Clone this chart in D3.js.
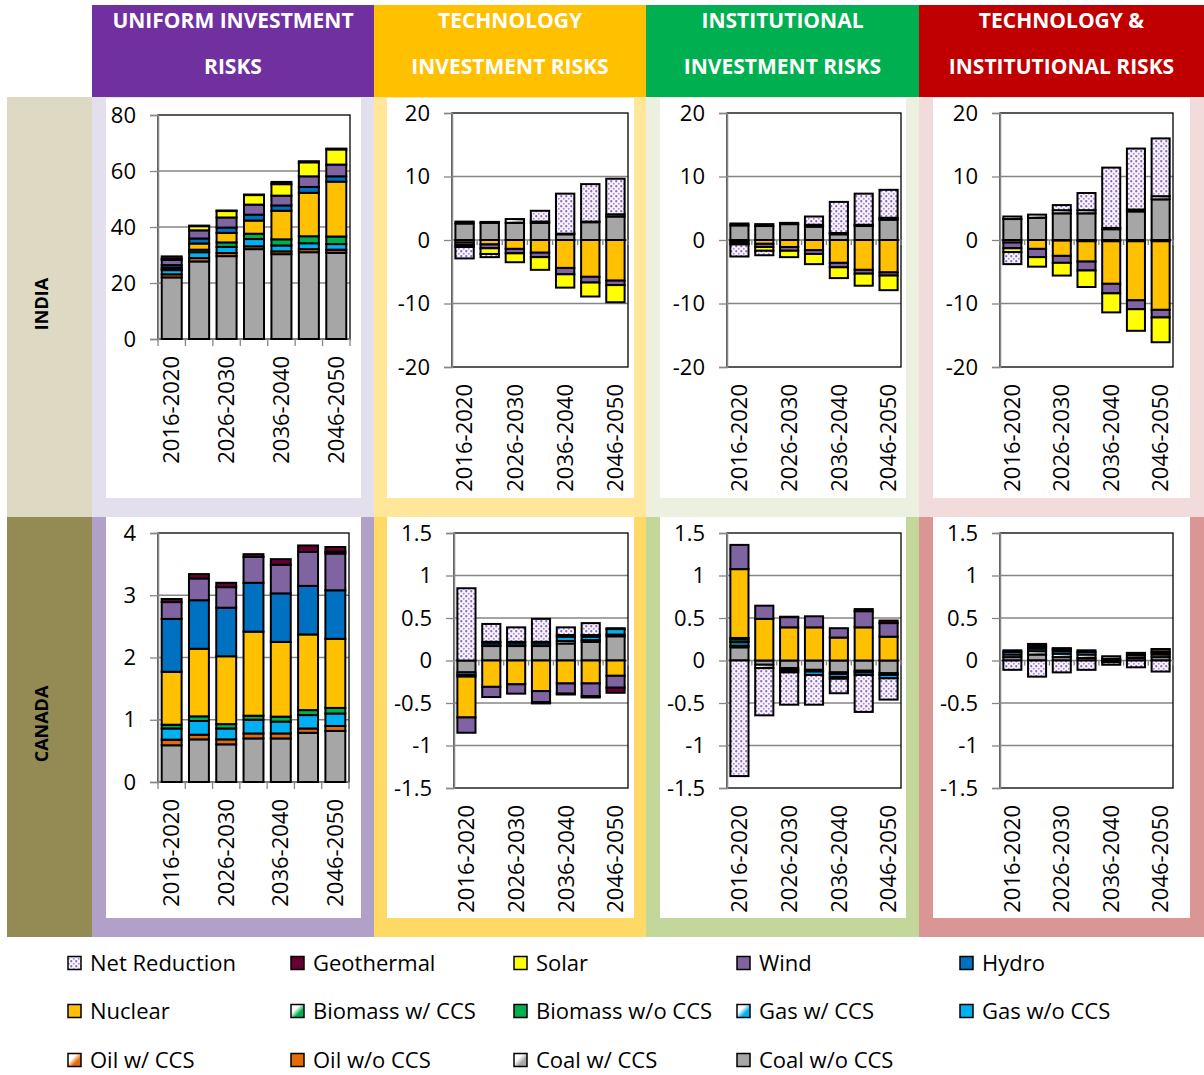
<!DOCTYPE html>
<html><head><meta charset="utf-8">
<script src="https://cdn.jsdelivr.net/npm/d3@7"></script>
<style>body{margin:0;background:#fff} text{font-family:'Open Sans','Noto Sans',sans-serif}</style>
</head><body><svg id="c" width="1204" height="1075"></svg>
<script>
// ---------------- DATA ----------------
const categories = ["2016-2020","2021-2025","2026-2030","2031-2035","2036-2040","2041-2045","2046-2050"];
const shownCategoryLabels = ["2016-2020","2026-2030","2036-2040","2046-2050"];
// stack order bottom -> top
const seriesNames = ["Coal w/o CCS","Coal w/ CCS","Oil w/o CCS","Oil w/ CCS","Gas w/o CCS","Gas w/ CCS",
  "Biomass w/o CCS","Biomass w/ CCS","Nuclear","Hydro","Wind","Solar","Geothermal","Net Reduction"];
const legendOrder = ["Net Reduction","Geothermal","Solar","Wind","Hydro","Nuclear","Biomass w/ CCS",
  "Biomass w/o CCS","Gas w/ CCS","Gas w/o CCS","Oil w/ CCS","Oil w/o CCS","Coal w/ CCS","Coal w/o CCS"];
const scenarioHeaders = [["UNIFORM INVESTMENT","RISKS"],["TECHNOLOGY","INVESTMENT RISKS"],
  ["INSTITUTIONAL","INVESTMENT RISKS"],["TECHNOLOGY &","INSTITUTIONAL RISKS"]];
const regionNames = ["INDIA","CANADA"];
const indiaUniformTicks = [0,20,40,60,80];
const indiaDiffTicks = [-20,-10,0,10,20];
const canadaUniformTicks = [0,1,2,3,4];
const canadaDiffTicks = [-1.5,-1,-0.5,0,0.5,1,1.5];
const Z = [0,0,0,0,0,0,0];

// rows follow seriesNames order; columns follow categories
const indiaUniform = [
  [22.0,27.7,29.6,32.1,30.3,31.0,30.8],
  Z,
  [1.1,1.2,1.1,1.0,1.0,1.1,1.1],
  Z,
  [1.5,2.1,2.2,2.6,2.1,2.1,2.0],
  Z,
  [0.3,0.9,1.6,1.9,2.2,2.5,2.7],
  Z,
  [0.6,2.2,3.4,4.7,10.2,15.5,19.6],
  [0.9,1.8,1.9,2.1,1.9,2.1,1.9],
  [1.9,2.9,3.6,3.6,3.5,3.8,4.2],
  [0.3,1.5,2.3,3.4,4.1,5.0,5.4],
  [0.9,0.2,0.2,0.2,0.8,0.4,0.3],
  Z
];
const indiaTech = [
  [2.6,2.7,2.7,2.7,0.9,2.8,3.7],
  [0.3,0.15,0.6,0.2,0.1,0.1,0.35],
  Z,Z,Z,Z,Z,Z,
  [-0.4,-0.7,-1.4,-2.0,-4.4,-5.8,-6.4],
  Z,
  [-0.4,-0.6,-0.7,-0.7,-1.0,-0.9,-0.7],
  [-0.3,-0.9,-1.4,-2.0,-2.1,-2.2,-2.7],
  Z,
  [-1.8,-0.5,0,1.7,6.3,5.9,5.6]
];
const indiaInst = [
  [2.3,2.2,2.5,2.1,0.9,2.2,3.2],
  [0.3,0.3,0.2,0.3,0.2,0.2,0.3],
  Z,Z,Z,Z,Z,Z,
  [-0.3,-0.6,-1.1,-1.6,-3.6,-4.7,-5.1],
  Z,
  [-0.3,-0.5,-0.6,-0.6,-0.7,-0.6,-0.5],
  [-0.1,-0.6,-1.0,-1.6,-1.7,-1.9,-2.3],
  Z,
  [-1.9,-0.7,0,1.3,4.9,4.9,4.4]
];
const indiaTechInst = [
  [3.3,3.5,4.2,4.2,1.7,4.5,6.4],
  [0.4,0.5,0.5,0.5,0.2,0.3,0.5],
  Z,Z,Z,Z,
  [0,0,-0.1,-0.2,-0.2,-0.2,-0.2],
  Z,
  [-0.4,-1.4,-2.4,-3.2,-6.7,-9.3,-10.8],
  Z,
  [-0.9,-1.3,-1.1,-1.4,-1.5,-1.4,-1.2],
  [-0.6,-1.5,-2.0,-2.6,-3.0,-3.4,-3.9],
  Z,
  [-1.9,0,0.8,2.7,9.5,9.6,9.1]
];
const canadaUniform = [
  [0.59,0.685,0.605,0.70,0.70,0.79,0.82],
  Z,
  [0.09,0.075,0.08,0.08,0.08,0.07,0.08],
  Z,
  [0.18,0.22,0.175,0.22,0.19,0.215,0.20],
  Z,
  [0.06,0.075,0.07,0.065,0.08,0.08,0.09],
  Z,
  [0.85,1.085,1.09,1.35,1.2,1.215,1.11],
  [0.85,0.78,0.78,0.785,0.78,0.78,0.78],
  [0.27,0.35,0.33,0.415,0.46,0.545,0.59],
  [0,0,0,0,0,0,0.03],
  [0.05,0.07,0.07,0.045,0.09,0.105,0.075],
  Z
];
const canadaTech = [
  [-0.14,0.17,0.17,0.17,0.20,0.22,0.285],
  [0,0.01,0.01,0.01,0.03,0.02,0.02],
  Z,Z,
  [-0.03,0.03,0.03,0.03,0.05,0.04,0.065],
  [-0.02,0.01,0.01,0.01,0.02,0.02,0.01],
  Z,Z,
  [-0.48,-0.31,-0.28,-0.36,-0.27,-0.27,-0.18],
  Z,
  [-0.18,-0.12,-0.11,-0.13,-0.12,-0.15,-0.14],
  Z,
  [0,0,0,-0.015,-0.01,-0.015,-0.06],
  [0.85,0.21,0.17,0.27,0.09,0.14,0]
];
const canadaInst = [
  [0.155,-0.05,-0.09,-0.11,-0.14,-0.12,-0.15],
  [0.02,-0.04,-0.02,-0.02,-0.02,-0.02,-0.02],
  [0,0,-0.01,0,0,0,0],
  Z,
  [0.04,0,-0.02,-0.04,-0.035,-0.03,-0.04],
  [0.01,0,0,0,-0.02,0,0],
  [0.03,0,0,0,0,0,0],
  [0.01,0,0,0,0,0,0],
  [0.81,0.49,0.39,0.39,0.27,0.39,0.28],
  Z,
  [0.285,0.155,0.12,0.13,0.11,0.19,0.16],
  Z,
  [0,0,0.005,0,0,0.025,0.03],
  [-1.36,-0.555,-0.38,-0.35,-0.17,-0.435,-0.25]
];
const canadaTechInst = [
  [0.04,0.07,0.04,0.03,0.02,0.03,0.04],
  [0.03,0.04,0.04,0.04,0.03,0.03,0.03],
  Z,Z,
  [0.03,0.03,0.03,0.03,0,0.02,0.02],
  [0.02,0.02,0.02,0.02,0,0.01,0.01],
  Z,Z,
  [0,0.02,0.01,0,0,0,0.03],
  Z,
  [0,0.015,0.005,0,-0.02,0,0.005],
  Z,Z,
  [-0.11,-0.19,-0.14,-0.11,-0.03,-0.08,-0.13]
];

// ---------------- STYLE / LAYOUT ----------------
const svg = d3.select("#c");
const defs = svg.append("defs");
const nr = defs.append("pattern").attr("id","pNR").attr("patternUnits","userSpaceOnUse")
  .attr("width",5).attr("height",5);
nr.append("rect").attr("width",5).attr("height",5).attr("fill","#FAF6FD");
nr.append("circle").attr("cx",1.25).attr("cy",1.25).attr("r",1.15).attr("fill","#8E68C6");
nr.append("circle").attr("cx",3.75).attr("cy",3.75).attr("r",1.0).attr("fill","#A98ED6");
function grad(id,color){
  const g = defs.append("linearGradient").attr("id",id).attr("x1",0).attr("y1",0).attr("x2",1).attr("y2",1);
  g.append("stop").attr("offset","0.35").attr("stop-color","#fff");
  g.append("stop").attr("offset","0.65").attr("stop-color",color);
}
grad("gCoal","#A6A6A6"); grad("gOil","#E46C0A"); grad("gGas","#00B0F0"); grad("gBio","#00B050");
const fills = {
  "Coal w/o CCS":"#A6A6A6","Coal w/ CCS":"url(#gCoal)","Oil w/o CCS":"#E46C0A","Oil w/ CCS":"url(#gOil)",
  "Gas w/o CCS":"#00B0F0","Gas w/ CCS":"url(#gGas)","Biomass w/o CCS":"#00B050","Biomass w/ CCS":"url(#gBio)",
  "Nuclear":"#FFC000","Hydro":"#0070C0","Wind":"#8064A2","Solar":"#FFFF00","Geothermal":"#660033",
  "Net Reduction":"url(#pNR)"
};

const colX = [[92,374],[374,646],[646,919],[919,1204]];
const headerColors = ["#7030A0","#FFC000","#00B050","#C00000"];
const rowY = [[97,517],[517,937]];
const rowLabelColors = ["#DDD9C3","#948A54"];
const panelBg = [["#E4DFEC","#FFE699","#EBF1DE","#F2DCDB"],["#B1A0C7","#FFD966","#C4D79B","#DA9694"]];
const whiteX = [[106,361],[387,634],[660,906],[933,1190]];
const whiteY = [[98,498],[517,918]];

// headers
colX.forEach((cx,i)=>{
  svg.append("rect").attr("x",cx[0]).attr("y",5).attr("width",cx[1]-cx[0]).attr("height",92).attr("fill",headerColors[i]);
  scenarioHeaders[i].forEach((t,k)=>{
    svg.append("text").attr("x",(cx[0]+cx[1])/2).attr("y",k===0?21:67).attr("dy","0.35em")
      .attr("text-anchor","middle").attr("fill","#fff").attr("font-weight","bold").attr("font-size",21).text(t);
  });
});
// rows
rowY.forEach((ry,r)=>{
  svg.append("rect").attr("x",7).attr("y",ry[0]).attr("width",85).attr("height",ry[1]-ry[0]).attr("fill",rowLabelColors[r]);
  svg.append("text").attr("transform",`translate(42,${(ry[0]+ry[1])/2-3}) rotate(-90)`).attr("dy","0.35em")
    .attr("text-anchor","middle").attr("font-weight","bold").attr("font-size",18).attr("fill","#000").text(regionNames[r]);
  colX.forEach((cx,c)=>{
    svg.append("rect").attr("x",cx[0]).attr("y",ry[0]).attr("width",cx[1]-cx[0]).attr("height",ry[1]-ry[0]).attr("fill",panelBg[r][c]);
    svg.append("rect").attr("x",whiteX[c][0]).attr("y",whiteY[r][0]).attr("width",whiteX[c][1]-whiteX[c][0])
      .attr("height",whiteY[r][1]-whiteY[r][0]).attr("fill","#fff");
  });
});

const panels = [
  {data:indiaUniform, frame:[158,115,350,339], ticks:indiaUniformTicks},
  {data:indiaTech, frame:[452,113,628,367], ticks:indiaDiffTicks},
  {data:indiaInst, frame:[727,113,901,367], ticks:indiaDiffTicks},
  {data:indiaTechInst, frame:[1000,113,1173,367], ticks:indiaDiffTicks},
  {data:canadaUniform, frame:[158,533,349,782], ticks:canadaUniformTicks},
  {data:canadaTech, frame:[454,533,628,788], ticks:canadaDiffTicks},
  {data:canadaInst, frame:[727,533,901,788], ticks:canadaDiffTicks},
  {data:canadaTechInst, frame:[1000,533,1173,788], ticks:canadaDiffTicks}
];
const GRID = "#868686";

panels.forEach(p=>{
  const [x0,y0,x1,y1] = p.frame;
  const g = svg.append("g");
  const x = d3.scaleBand().domain(categories).range([x0,x1]).paddingInner(0.27).paddingOuter(0.135);
  const y = d3.scaleLinear().domain(d3.extent(p.ticks)).range([y1,y0]);
  const step = x.step();
  // gridlines
  g.selectAll(".grid").data(p.ticks.filter(t=>t!==0 && t!==p.ticks[0] && t!==p.ticks[p.ticks.length-1]))
    .join("line").attr("x1",x0).attr("x2",x1).attr("y1",d=>y(d)).attr("y2",d=>y(d))
    .attr("stroke",GRID).attr("stroke-width",1.3);
  // frame
  g.append("rect").attr("x",x0).attr("y",y0).attr("width",x1-x0).attr("height",y1-y0)
    .attr("fill","none").attr("stroke","#000").attr("stroke-width",1.3);
  // category axis at 0
  const yz = y(0);
  g.append("line").attr("x1",x0).attr("x2",x1).attr("y1",yz).attr("y2",yz).attr("stroke",GRID).attr("stroke-width",1.5);
  g.selectAll(".ct").data(d3.range(categories.length+1)).join("line")
    .attr("x1",i=>x0+i*step).attr("x2",i=>x0+i*step).attr("y1",yz).attr("y2",yz+(p.ticks[0]===0?7:5))
    .attr("stroke",GRID).attr("stroke-width",1.3);
  // y axis
  const ax = g.append("g").attr("transform",`translate(${x0},0)`)
    .call(d3.axisLeft(y).tickValues(p.ticks).tickFormat(d=>String(d)).tickSize(8).tickPadding(14));
  ax.select(".domain").attr("stroke",GRID).attr("stroke-width",1.5);
  ax.selectAll(".tick line").attr("stroke",GRID).attr("stroke-width",1.3);
  ax.selectAll(".tick text").attr("font-size",22).attr("fill","#000").attr("font-family","'Open Sans',sans-serif");
  // stacked bars
  const rows = categories.map((c,j)=>{const o={cat:c}; seriesNames.forEach((s,i)=>o[s]=p.data[i][j]); return o;});
  const layers = d3.stack().keys(seriesNames).offset(d3.stackOffsetDiverging)(rows);
  layers.forEach(layer=>{
    g.selectAll(null).data(layer.filter(d=>Math.abs(d[1]-d[0])>1e-9)).join("rect")
      .attr("x",d=>x(d.data.cat)).attr("width",x.bandwidth())
      .attr("y",d=>y(Math.max(d[0],d[1]))).attr("height",d=>Math.abs(y(d[0])-y(d[1])))
      .attr("fill",fills[layer.key]).attr("stroke","#000").attr("stroke-width",2);
  });
  // category labels
  g.selectAll(".cl").data(shownCategoryLabels).join("text")
    .attr("transform",d=>`translate(${x(d)+x.bandwidth()/2},${y1+17}) rotate(-90)`)
    .attr("dy","0.35em").attr("text-anchor","end").attr("font-size",22).attr("fill","#000").text(d=>d);
});

// legend
const legX = [68,291,514,737,960];
const legY = [963,1011,1060];
legendOrder.forEach((name,i)=>{
  const cx = legX[i%5], cy = legY[Math.floor(i/5)];
  svg.append("rect").attr("x",cx).attr("y",cy-6.5).attr("width",13).attr("height",13)
    .attr("fill",fills[name]).attr("stroke","#000").attr("stroke-width",1.5);
  svg.append("text").attr("x",cx+22).attr("y",cy).attr("dy","0.35em").attr("font-size",22).attr("fill","#000").text(name);
});
</script></body></html>
